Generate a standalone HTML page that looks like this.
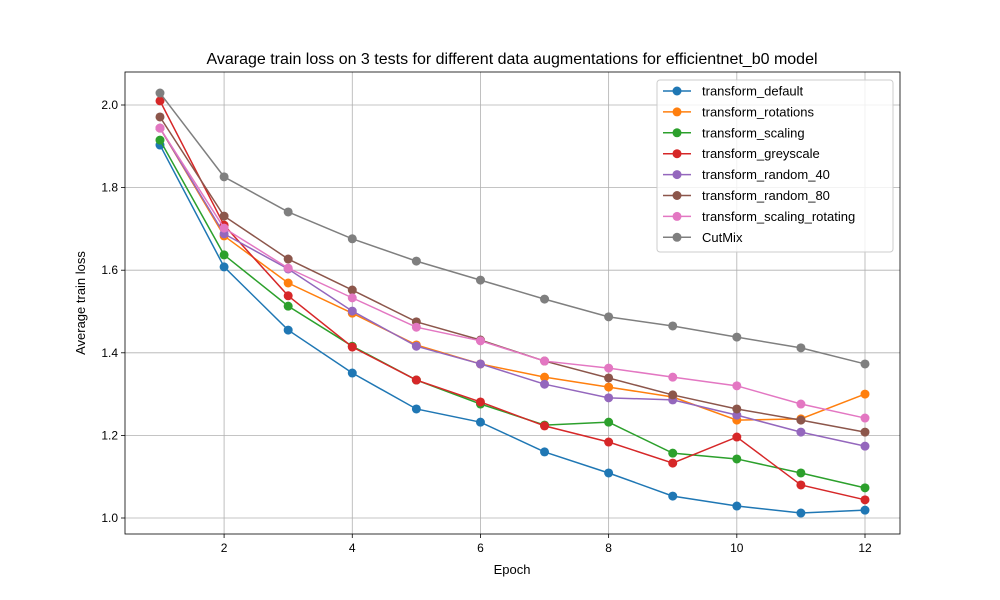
<!DOCTYPE html>
<html><head><meta charset="utf-8"><style>
body{margin:0;background:#fff}
svg{display:block;font-family:"Liberation Sans","DejaVu Sans",sans-serif}
</style></head><body>
<svg id="chart" width="1000" height="600"></svg>
<script>
const epochs=[1,2,3,4,5,6,7,8,9,10,11,12];
const seriesNames=["transform_default","transform_rotations","transform_scaling","transform_greyscale","transform_random_40","transform_random_80","transform_scaling_rotating","CutMix"];
const colors=["#1f77b4","#ff7f0e","#2ca02c","#d62728","#9467bd","#8c564b","#e377c2","#7f7f7f"];
const sDefault=[1.903,1.608,1.455,1.351,1.264,1.232,1.160,1.109,1.053,1.029,1.012,1.019];
const sRotations=[1.944,1.683,1.569,1.496,1.419,1.373,1.341,1.317,1.293,1.237,1.240,1.300];
const sScaling=[1.915,1.637,1.513,1.416,1.334,1.276,1.225,1.232,1.157,1.143,1.109,1.073];
const sGreyscale=[2.010,1.709,1.538,1.414,1.334,1.281,1.223,1.184,1.133,1.196,1.080,1.044];
const sRandom40=[1.944,1.688,1.603,1.501,1.416,1.373,1.324,1.291,1.286,1.249,1.208,1.174];
const sRandom80=[1.971,1.731,1.627,1.552,1.475,1.431,1.380,1.339,1.298,1.264,1.237,1.208];
const sScalRot=[1.944,1.702,1.605,1.533,1.462,1.429,1.380,1.363,1.341,1.320,1.276,1.242];
const sCutMix=[2.029,1.826,1.741,1.676,1.622,1.576,1.530,1.487,1.465,1.438,1.412,1.373];
const xTicks=[2,4,6,8,10,12];
const yTicks=[1.0,1.2,1.4,1.6,1.8,2.0];
const allSeries=[sDefault,sRotations,sScaling,sGreyscale,sRandom40,sRandom80,sScalRot,sCutMix];

const L=125,R=900,T=72,B=534;
const xs=v=>160+(v-1)*(865-160)/11;
const ys=v=>518-(v-1)*413;
const NS="http://www.w3.org/2000/svg";
const svg=document.getElementById('chart');
function el(tag,attrs,parent){const e=document.createElementNS(NS,tag);for(const k in attrs)e.setAttribute(k,attrs[k]);(parent||svg).appendChild(e);return e;}

const title=el('text',{x:512,y:64,'text-anchor':'middle','font-size':16,fill:'#000'});


title.textContent="Avarage train loss on 3 tests for different data augmentations for efficientnet_b0 model";

const grid=el('g',{});


xTicks.forEach(t=>{
  el('line',{x1:xs(t),x2:xs(t),y1:T,y2:B,stroke:'#b0b0b0','stroke-width':0.8},grid);
  el('line',{x1:xs(t),x2:xs(t),y1:B,y2:B+4,stroke:'#000','stroke-width':0.8});
  const tx=el('text',{x:xs(t),y:B+18,'text-anchor':'middle','font-size':12});
  
  
  tx.textContent=t;
});
yTicks.forEach(t=>{
  el('line',{x1:L,x2:R,y1:ys(t),y2:ys(t),stroke:'#b0b0b0','stroke-width':0.8},grid);
  el('line',{x1:L-4,x2:L,y1:ys(t),y2:ys(t),stroke:'#000','stroke-width':0.8});
  const tx=el('text',{x:L-7,y:ys(t)+4,'text-anchor':'end','font-size':12});
  
  
  tx.textContent=t.toFixed(1);
});

allSeries.forEach((s,i)=>{
  const g=el('g',{});
  
  
  el('polyline',{points:s.map((v,j)=>xs(epochs[j])+','+ys(v)).join(' '),fill:'none',stroke:colors[i],'stroke-width':1.5},g);
  s.forEach((v,j)=>{
    const c=el('circle',{cx:xs(epochs[j]),cy:ys(v),r:4.5,fill:colors[i]},g);
    
    
  });
});

const frame=el('rect',{x:L,y:T,width:R-L,height:B-T,fill:'none',stroke:'#000','stroke-width':0.8});



const xl=el('text',{x:512,y:574,'text-anchor':'middle','font-size':13});


xl.textContent="Epoch";
const yl=el('text',{x:85,y:303,'text-anchor':'middle','font-size':13,transform:'rotate(-90 85 303)'});


yl.textContent="Average train loss";

const lg=el('g',{});


el('rect',{x:657,y:80,width:236,height:172,rx:3,fill:'#fff','fill-opacity':0.8,stroke:'#ccc'},lg);
seriesNames.forEach((n,i)=>{
  const y=91+i*20.9;
  const e=el('g',{},lg);
  
  
  el('line',{x1:663,x2:691,y1:y,y2:y,stroke:colors[i],'stroke-width':1.5},e);
  el('circle',{cx:677,cy:y,r:4.5,fill:colors[i]},e);
  const t=el('text',{x:702,y:y+4.5,'font-size':13},e);
  t.textContent=n;
});
</script>
</body></html>
